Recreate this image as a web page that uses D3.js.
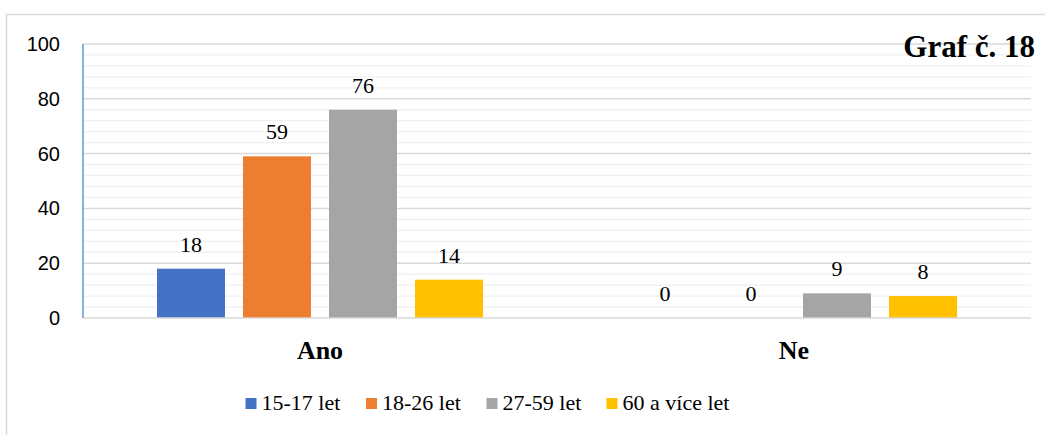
<!DOCTYPE html>
<html>
<head>
<meta charset="utf-8">
<script src="https://cdn.jsdelivr.net/npm/d3@7"></script>
</head>
<body style="margin:0">
<svg id="chart" width="1045" height="435"></svg>
<script>
const categories = ["Ano", "Ne"];
const seriesNames = ["15-17 let", "18-26 let", "27-59 let", "60 a více let"];
const seriesColors = ["#4472c4", "#ed7d31", "#a5a5a5", "#ffc000"];
const values15_17 = [18, 0];
const values18_26 = [59, 0];
const values27_59 = [76, 9];
const values60plus = [14, 8];
const yTicks = [0, 20, 40, 60, 80, 100];
const titleText = "Graf č. 18";

const seriesValues = [values15_17, values18_26, values27_59, values60plus];

const svg = d3.select("#chart");
const plot = { left: 83, right: 1031, top: 44, bottom: 318 };

function serif(sel, size, bold) {
  sel.attr("font-family", "Liberation Serif").attr("font-size", size)
     .style("font-family", '"Liberation Serif"').style("font-size", size + "px");
  if (bold) sel.attr("font-weight", "bold").style("font-weight", "bold");
  return sel;
}

// chart frame
svg.append("rect")
  .attr("x", 6.5).attr("y", 14.5)
  .attr("width", 1060).attr("height", 450)
  .attr("fill", "#fff").attr("stroke", "#d9d9d9").attr("stroke-width", 1.5);

const y = d3.scaleLinear().domain([0, 100]).range([plot.bottom, plot.top]);
const x0 = d3.scaleBand().domain(categories).range([plot.left, plot.right]).paddingInner(0).paddingOuter(0);
const groupW = 326;
const x1 = d3.scaleBand().domain(d3.range(seriesNames.length))
  .range([(x0.bandwidth() - groupW) / 2, (x0.bandwidth() + groupW) / 2])
  .paddingInner(18 / 86).paddingOuter(0);

// minor gridlines
const minorTicks = d3.range(0, 101, 4).filter(v => v % 20 !== 0);
svg.append("g").selectAll("line").data(minorTicks).join("line")
  .attr("x1", plot.left).attr("x2", plot.right)
  .attr("y1", d => y(d)).attr("y2", d => y(d))
  .attr("stroke", "#f0f0f0").attr("stroke-width", 1.3);

// major gridlines
svg.append("g").selectAll("line").data(yTicks.filter(v => v > 0)).join("line")
  .attr("x1", plot.left).attr("x2", plot.right)
  .attr("y1", d => y(d)).attr("y2", d => y(d))
  .attr("stroke", "#d9d9d9").attr("stroke-width", 1.5);

// y axis labels
const yAxis = d3.axisLeft(y).tickValues(yTicks).tickSize(0).tickPadding(23);
const gy = svg.append("g").attr("transform", `translate(${plot.left},0)`).call(yAxis)
  .attr("font-family", "Liberation Sans").attr("font-size", 20);
gy.select(".domain").remove();
gy.selectAll("text").attr("fill", "#000");

// bars
const groups = svg.append("g").selectAll("g").data(categories).join("g")
  .attr("transform", c => `translate(${x0(c)},0)`);

groups.each(function(c, ci) {
  const g = d3.select(this);
  seriesValues.forEach((vals, si) => {
    const v = vals[ci];
    if (v > 0) {
      g.append("rect")
        .attr("x", x1(si)).attr("width", x1.bandwidth())
        .attr("y", y(v)).attr("height", y(0) - y(v))
        .attr("fill", seriesColors[si]);
    }
    const t = g.append("text")
      .attr("x", x1(si) + x1.bandwidth() / 2)
      .attr("y", y(v) - 17)
      .attr("text-anchor", "middle")
      .attr("fill", "#000")
      .text(v);
    serif(t, 22, false);
  });
});

// baseline axis
svg.append("line")
  .attr("x1", plot.left).attr("x2", plot.right)
  .attr("y1", y(0)).attr("y2", y(0))
  .attr("stroke", "#d9d9d9").attr("stroke-width", 1.5);

// y axis line (blue)
svg.append("line")
  .attr("x1", plot.left).attr("x2", plot.left)
  .attr("y1", plot.top).attr("y2", plot.bottom)
  .attr("stroke", "#5b9bd5").attr("stroke-width", 1.5);

// category labels
const cl = svg.append("g").selectAll("text").data(categories).join("text")
  .attr("x", c => x0(c) + x0.bandwidth() / 2)
  .attr("y", 359)
  .attr("text-anchor", "middle")
  .attr("fill", "#000")
  .text(c => c);
serif(cl, 26, true);

// title
const tt = svg.append("text")
  .attr("x", 1035).attr("y", 57)
  .attr("text-anchor", "end")
  .attr("fill", "#000")
  .text(titleText);
serif(tt, 31, true);

// legend
const legendX = [245.5, 366, 486.5, 606.5];
const leg = svg.append("g").selectAll("g").data(seriesNames).join("g")
  .attr("transform", (d, i) => `translate(${legendX[i]},0)`);
leg.append("rect").attr("x", 0).attr("y", 398).attr("width", 11).attr("height", 11)
  .attr("fill", (d, i) => seriesColors[i]);
const lt = leg.append("text").attr("x", 16).attr("y", 410)
  .attr("fill", "#000")
  .text(d => d);
serif(lt, 22, false);
</script>
</body>
</html>
